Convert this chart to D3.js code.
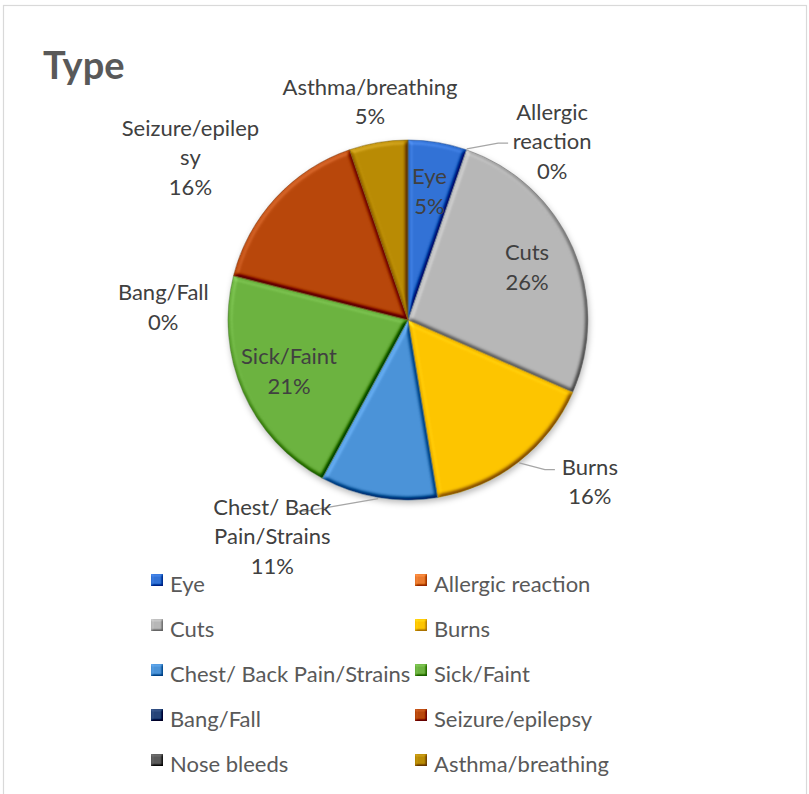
<!DOCTYPE html>
<html>
<head>
<meta charset="utf-8">
<script src="https://cdn.jsdelivr.net/npm/d3@7"></script>
<style>
  html, body { margin: 0; padding: 0; background: #fff; }
  svg { display: block; font-family: Lato, "Open Sans", sans-serif; }
</style>
</head>
<body>
<svg id="chart" width="809" height="794"></svg>
<script>
// Incident types and how many of each were recorded
const categories = ["Eye", "Allergic reaction", "Cuts", "Burns", "Chest/ Back Pain/Strains",
                    "Sick/Faint", "Bang/Fall", "Seizure/epilepsy", "Nose bleeds", "Asthma/breathing"];
const counts = [1, 0, 5, 3, 2, 4, 0, 3, 0, 1];
const colors = ["#3272d6", "#ea7a2e", "#b7b7b7", "#fdc500", "#4b93d8",
                "#6cb340", "#264478", "#b8470b", "#5a5a5a", "#b98b04"];

// Labels drawn inside their slice
const insideLabels = ["Eye", "Cuts", "Sick/Faint"];
// Labels drawn outside: wrapped lines, polar spot (deg clockwise from top, px), leader end offset
const outsideLabels = {
  "Asthma/breathing":        { lines: ["Asthma/breathing"], a: 350.1, r: 221 },
  "Allergic reaction":       { lines: ["Allergic", "reaction"], a: 39, r: 229, lead: [-44, 1] },
  "Burns":                   { lines: ["Burns"], a: 131.8, r: 244, lead: [-35, -13] },
  "Chest/ Back Pain/Strains":{ lines: ["Chest/ Back", "Pain/Strains"], a: 212, r: 256, lead: [24, -26] },
  "Bang/Fall":               { lines: ["Bang/Fall"], a: 272.8, r: 245 },
  "Seizure/epilepsy":        { lines: ["Seizure/epilep", "sy"], a: 306.6, r: 271 }
};

const svg = d3.select("#chart");
const cx = 408, cy = 320, R = 180;
const lineH = 29.5;

// Chart area frame
svg.append("rect").attr("x", 3.5).attr("y", 5.5).attr("width", 803).attr("height", 820)
  .attr("fill", "#fff").attr("stroke", "#d9d9d9").attr("stroke-width", 1.2);

// Title
svg.append("text").attr("x", 43).attr("y", 79).text("Type")
  .attr("font-size", 38).attr("font-weight", 700).attr("fill", "#595959");

// Bevel: diffuse light on blurred alpha, shifted so flat areas stay unchanged
const defs = svg.append("defs");
function bevel(id, blur, scale, k3) {
  const f = defs.append("filter").attr("id", id)
    .attr("x", "-5%").attr("y", "-5%").attr("width", "110%").attr("height", "110%")
    .attr("color-interpolation-filters", "sRGB");
  f.append("feGaussianBlur").attr("in", "SourceAlpha").attr("stdDeviation", blur).attr("result", "b");
  const dl = f.append("feDiffuseLighting").attr("in", "b").attr("surfaceScale", scale)
    .attr("diffuseConstant", 1).attr("lighting-color", "#fff").attr("result", "light");
  dl.append("feDistantLight").attr("azimuth", 235).attr("elevation", 55);
  f.append("feComposite").attr("in", "SourceGraphic").attr("in2", "light")
    .attr("operator", "arithmetic").attr("k1", 0).attr("k2", 1).attr("k3", k3)
    .attr("k4", -k3 * Math.sin(55 * Math.PI / 180)).attr("result", "lit");
  f.append("feComposite").attr("in", "lit").attr("in2", "SourceAlpha").attr("operator", "in");
}
bevel("bevel", 2.2, 4, 0.6);
bevel("bevelSmall", 0.8, 2, 0.5);

const shadow = defs.append("filter").attr("id", "shadow")
  .attr("x", "-10%").attr("y", "-10%").attr("width", "120%").attr("height", "125%");
shadow.append("feGaussianBlur").attr("stdDeviation", 3);

const color = d3.scaleOrdinal().domain(categories).range(colors);
const total = d3.sum(counts);
const data = categories.map((c, i) => ({ name: c, value: counts[i] }));

const pie = d3.pie().value(d => d.value).sort(null);
const arcs = pie(data);
const arc = d3.arc().innerRadius(0).outerRadius(R);
const labelArc = d3.arc().innerRadius(130).outerRadius(130);

const g = svg.append("g").attr("transform", `translate(${cx},${cy})`);

// soft shadow under the pie
g.append("circle").attr("cx", 1).attr("cy", 3).attr("r", R)
  .attr("fill", "rgba(0,0,0,0.28)").attr("filter", "url(#shadow)");

g.selectAll("path.slice").data(arcs.filter(d => d.value > 0)).join("path")
  .attr("class", "slice")
  .attr("d", arc)
  .attr("fill", d => color(d.data.name))
  .attr("filter", "url(#bevel)");

g.selectAll("path.edge").data(arcs.filter(d => d.value > 0)).join("path")
  .attr("class", "edge")
  .attr("d", arc)
  .attr("fill", "none")
  .attr("stroke", d => d3.color(color(d.data.name)).darker(0.8))
  .attr("stroke-width", 0.8)
  .attr("stroke-opacity", 0.7);

const pct = v => Math.round(v / total * 100) + "%";
const textColor = "#404040";
const fs = 22;

// inside labels
arcs.filter(d => insideLabels.includes(d.data.name)).forEach(d => {
  const [x, y] = labelArc.centroid(d);
  const t = g.append("text").attr("text-anchor", "middle").attr("font-size", fs).attr("fill", textColor);
  t.append("tspan").attr("x", x).attr("y", y - lineH / 2 + 7).text(d.data.name);
  t.append("tspan").attr("x", x).attr("y", y + lineH / 2 + 7).text(pct(d.value));
});

// outside labels with leader lines
const polar = (a, r) => [r * Math.sin(a * Math.PI / 180), -r * Math.cos(a * Math.PI / 180)];
arcs.filter(d => outsideLabels[d.data.name]).forEach(d => {
  const L = outsideLabels[d.data.name];
  const [x, y] = polar(L.a, L.r);
  const lines = L.lines.concat([pct(d.value)]);
  const top = y - (lines.length - 1) * lineH / 2;
  if (L.lead) {
    const mid = (d.startAngle + d.endAngle) / 2 * 180 / Math.PI;
    const p0 = polar(mid, R + 1);
    const p2 = [x + L.lead[0], y + L.lead[1]];
    const p1 = [p2[0] + Math.sign(L.lead[0]) * 10, p2[1]];
    g.append("path")
      .attr("d", d3.line()([p0, p1, p2]))
      .attr("fill", "none").attr("stroke", "#a6a6a6").attr("stroke-width", 1.3);
  }
  const t = g.append("text").attr("text-anchor", "middle").attr("font-size", fs).attr("fill", textColor);
  lines.forEach((s, i) => t.append("tspan").attr("x", x).attr("y", top + i * lineH + 7).text(s));
});

// legend, two columns
const legend = svg.append("g").attr("class", "legend");
const colX = [151, 415], rowY0 = 585, rowStep = 45;
data.forEach((d, i) => {
  const lx = colX[i % 2], ly = rowY0 + Math.floor(i / 2) * rowStep;
  legend.append("rect").attr("x", lx).attr("y", ly - 11).attr("width", 12).attr("height", 12)
    .attr("fill", color(d.name)).attr("filter", "url(#bevelSmall)");
  legend.append("text").attr("x", lx + 19).attr("y", ly + 7).attr("font-size", fs)
    .attr("fill", "#595959").text(d.name);
});
</script>
</body>
</html>
